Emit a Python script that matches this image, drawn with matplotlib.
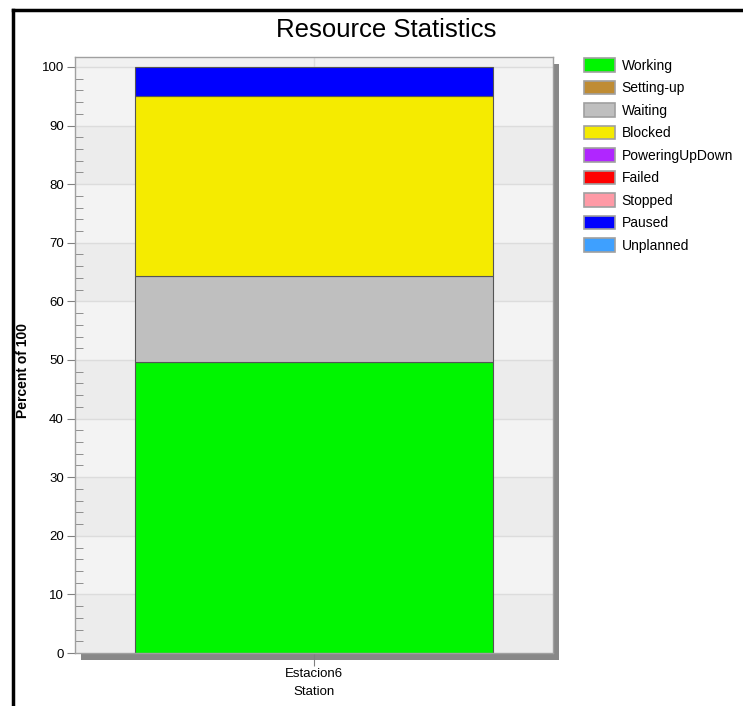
import matplotlib
matplotlib.use("Agg")
import matplotlib.pyplot as plt
from matplotlib.patches import Patch, Rectangle
from matplotlib.lines import Line2D

plt.rcParams['font.family'] = ['Liberation Sans Narrow', 'Liberation Sans', 'DejaVu Sans']

# Resource states, in stacking / legend order
states = ["Working", "Setting-up", "Waiting", "Blocked", "PoweringUpDown",
          "Failed", "Stopped", "Paused", "Unplanned"]
colors = ["#00f500", "#bf8c34", "#bfbfbf", "#f5eb00", "#b026ff",
          "#ff0000", "#ff9aa6", "#0000ff", "#3ea0ff"]
# Percent of time per state for the single station
station = ["Estacion6"]
percent = [49.7, 0.0, 14.6, 30.7, 0.0, 0.0, 0.0, 5.0, 0.0]

fig = plt.figure(figsize=(7.43, 7.06), dpi=100)
W, H = 743, 706

# window frame lines
fig.add_artist(Line2D([13 / W, 13 / W], [0, 1 - 10 / H], color="black", lw=2.5))
fig.add_artist(Line2D([13 / W, 1], [1 - 10 / H, 1 - 10 / H], color="black", lw=2.5))

ax_l, ax_r, ax_b, ax_t = 75 / W, 553 / W, 1 - 653 / H, 1 - 57 / H
# drop shadow behind the plot area
fig.add_artist(Rectangle((ax_l + 6 / W, ax_b - 7 / H), ax_r - ax_l, ax_t - ax_b,
                         transform=fig.transFigure, facecolor="#888888",
                         edgecolor="none", zorder=0))
ax = fig.add_axes([ax_l, ax_b, ax_r - ax_l, ax_t - ax_b], zorder=1)

ymax = 101.7
ax.set_xlim(-0.5, 0.5)
ax.set_ylim(0, ymax)

# alternating background bands between gridlines
edges = list(range(0, 101, 10)) + [ymax]
for i in range(len(edges) - 1):
    shade = "#ececec" if i % 2 == 0 else "#f3f3f3"
    if i == len(edges) - 2:
        shade = "#f1f1f1"
    ax.axhspan(edges[i], edges[i + 1], color=shade, lw=0, zorder=0)
for y in range(10, 101, 10):
    ax.axhline(y, color="#dcdcdc", lw=1, zorder=0.5)
ax.axvline(0, color="#dcdcdc", lw=1, zorder=0.5)

bottom = 0
for name, c, v in zip(states, colors, percent):
    if v > 0:
        ax.bar(0, v, width=0.747, bottom=bottom, color=c, edgecolor="#555555",
               linewidth=0.8, zorder=2)
    bottom += v

for s in ax.spines.values():
    s.set_color("#a0a0a0")
    s.set_linewidth(1)

ax.set_yticks(range(0, 101, 10))
ax.set_yticks([y for y in range(0, 101, 2) if y % 10], minor=True)
ax.tick_params(axis="y", which="major", direction="out", length=6, color="#808080",
               labelsize=9.5, pad=2)
ax.tick_params(axis="y", which="minor", direction="in", length=6, color="#808080")
ax.set_xticks([0])
ax.set_xticklabels(station)
ax.tick_params(axis="x", direction="out", length=9, color="#808080", labelsize=9.5, pad=2)
ax.set_xlabel("Station", fontsize=9.5, labelpad=4)
fig.text(23 / W, 1 - 370 / H, "Percent of 100", rotation=90, fontsize=10,
         fontweight="bold", ha="center", va="center")

fig.text(386 / W, 1 - 30 / H, "Resource Statistics", fontsize=18.5,
         ha="center", va="center")

handles = [Patch(facecolor=c, edgecolor="#a0a0a0", linewidth=1.2) for c in colors]
fig.legend(handles, states, loc="upper left", bbox_to_anchor=(584 / W, 1 - 58 / H),
           frameon=False, fontsize=10, handlelength=2.2, handleheight=1.15,
           labelspacing=0.57, handletextpad=0.5, borderaxespad=0, borderpad=0)

fig.savefig("out.png", dpi=100)
